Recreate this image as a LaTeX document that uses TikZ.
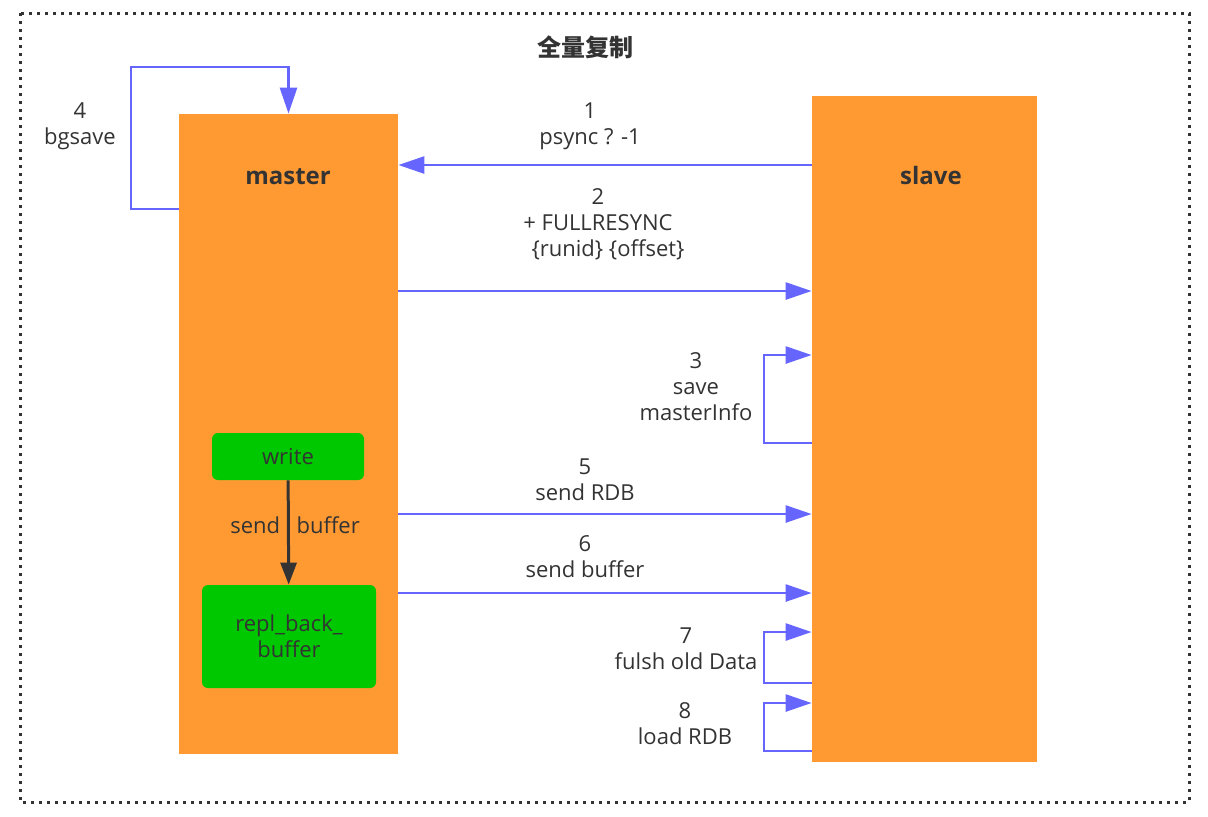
\documentclass[tikz,border=0pt]{standalone}
\usepackage{fontspec}
\setmainfont{Open Sans}
\newfontfamily\cjk{Noto Sans CJK SC}
\usetikzlibrary{arrows.meta,positioning,calc}
\definecolor{boxorange}{HTML}{FF9A33}
\definecolor{boxgreen}{HTML}{00C800}
\definecolor{flowblue}{HTML}{6666FF}
\definecolor{txtgray}{HTML}{333333}

\begin{document}
\begin{tikzpicture}[x=0.5pt, y=-0.5pt,
  every node/.style={text=txtgray, font=\fontsize{11}{13}\selectfont},
  proc/.style={fill=boxorange, inner sep=0pt},
  store/.style={fill=boxgreen, rounded corners=3pt, inner sep=0pt, align=center},
  flow/.style={draw=flowblue, line width=1.35pt, -{Triangle[length=13pt,width=8.5pt]}},
  tag/.style={align=center},
  heading/.style={font=\fontsize{12}{14}\selectfont\bfseries}]
% 背景和边框
\fill[white] (0,0) rectangle (1208,816);
\useasboundingbox (0,0) rectangle (1208,816);
\draw[txtgray, line width=1.5pt, dash pattern=on 1.5pt off 2.5pt] (20,13) rectangle (1189,802);
\node[heading] (title) at (585,47) {\cjk 全量复制};

% 主从节点
\node[proc, minimum width=109.5pt, minimum height=320pt] (master) at (288.5,434) {};
\node[proc, minimum width=112.5pt, minimum height=333pt] (slave) at (924.5,429) {};
\node[heading] (mastername) at (288,177) {master};
\node[heading] (slavename) at (931,175) {slave};

% 缓冲区
\node[store, minimum width=76pt, minimum height=23.5pt] (write) at (288,456.5) {write};
\node[store, minimum width=87pt, minimum height=51.5pt] (repl) at (289,636.5) {repl\_back\_\\buffer};

% 辅助坐标
\coordinate (y1) at (0,165);
\coordinate (y2) at (0,291);
\coordinate (y5) at (0,514);
\coordinate (y6) at (0,593);
\coordinate (l4a) at (131,209);
\coordinate (l4b) at (131,67);
\coordinate (l3a) at (764,443);
\coordinate (l3b) at (764,355);
\coordinate (l7a) at (764,683);
\coordinate (l7b) at (764,632);
\coordinate (l8a) at (764,751);
\coordinate (l8b) at (764,703);

% 连接
\draw[flow] (slave.west |- y1) -- (master.east |- y1);
\draw[flow] (master.east |- y2) -- (slave.west |- y2);
\draw[flow] (master.west |- l4a) -- (l4a) -- (l4b) -| (master.north);
\draw[flow] (slave.west |- l3a) -- (l3a) -- (l3b) -- (slave.west |- l3b);
\draw[flow] (master.east |- y5) -- (slave.west |- y5);
\draw[flow] (master.east |- y6) -- (slave.west |- y6);
\draw[flow] (slave.west |- l7a) -- (l7a) -- (l7b) -- (slave.west |- l7b);
\draw[flow] (slave.west |- l8a) -- (l8a) -- (l8b) -- (slave.west |- l8b);
\draw[txtgray, line width=1.5pt, -{Triangle[length=11pt,width=8pt]}] (write) -- node[pos=0.43, left] {send} node[pos=0.43, right] {buffer} (repl);

% 标签
\node[tag] (t1) at (590,126) {1\\psync ? -1};
\node[tag] (t2) at (598,224.5) {2\\+ FULLRESYNC\\\hspace*{10pt}\{runid\} \{offset\}};
\node[tag] (t3) at (696,386.5) {3\\save\\masterInfo};
\node[tag] (t4) at (80,126.5) {4\\bgsave};
\node[tag] (t5) at (585,479.5) {5\\send RDB};
\node[tag] (t6) at (585,556.5) {6\\send buffer};
\node[tag] (t7) at (686,648.5) {7\\fulsh old Data};
\node[tag] (t8) at (685,724) {8\\load RDB};
\end{tikzpicture}
\end{document}
